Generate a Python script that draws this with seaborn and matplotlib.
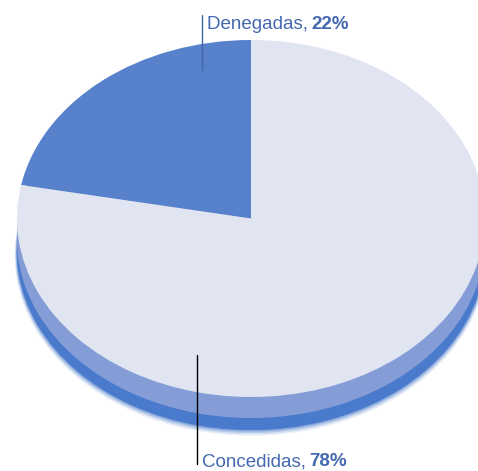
import matplotlib.pyplot as plt
import seaborn as sns

labels = ["Denegadas", "Concedidas"]
shares = [22, 78]

WIDTH, HEIGHT = 478, 471
CX, CY = 251, 218.5
RX, RY = 234, 178.5

sns.set_theme(style="white")
plt.rcParams["font.family"] = ["Liberation Sans", "DejaVu Sans"]


def to_x(px):
    return (px - CX) / RX


def to_y(py):
    return (CY - py) / RY


def side_layer(ax, drop, color, radius=1.0, alpha=1.0):
    ax.pie(shares, colors=[color, color], startangle=90, radius=radius,
           center=(0, -drop / RY), wedgeprops={"linewidth": 0, "alpha": alpha})


fig = plt.figure(figsize=(WIDTH / 100, HEIGHT / 100), dpi=100)
ax = fig.add_axes([0, 0, 1, 1])

# soft edge under the disc
for d, r, a in [(37, 1.01, 0.1), (36, 1.008, 0.15), (35, 1.006, 0.22), (34, 1.004, 0.32), (33, 1.002, 0.5)]:
    side_layer(ax, d, "#4A7ACB", radius=r, alpha=a)
side_layer(ax, 33, "#4A7ACB")
side_layer(ax, 21, "#849DD6")

pal = sns.color_palette(["#5781CB", "#E0E5F1"])
ax.pie(shares, colors=pal, startangle=90, center=(0, 0), wedgeprops={"linewidth": 0})

ax.set_aspect("auto")
ax.set_xlim(to_x(0), to_x(WIDTH))
ax.set_ylim(to_y(HEIGHT), to_y(0))

# leader lines
ax.plot([to_x(202), to_x(202)], [to_y(15), to_y(70)], color="#3F66A8", lw=1.0)
ax.plot([to_x(197.3), to_x(197.3)], [to_y(355), to_y(464)], color="black", lw=1.0)

text_color = "#4468B0"
renderer = fig.canvas.get_renderer()
for name, share, px, py in zip(labels, shares, [207, 202], [24, 462]):
    t = ax.text(to_x(px), to_y(py), f"{name}, ", color=text_color, fontsize=13.5,
                va="center", ha="left")
    end = t.get_window_extent(renderer).x1
    ax.text(to_x(end - 1.5), to_y(py), f"{share}%", color=text_color, fontsize=13.5,
            fontweight="bold", va="center", ha="left")

fig.savefig("out.png", dpi=100)
